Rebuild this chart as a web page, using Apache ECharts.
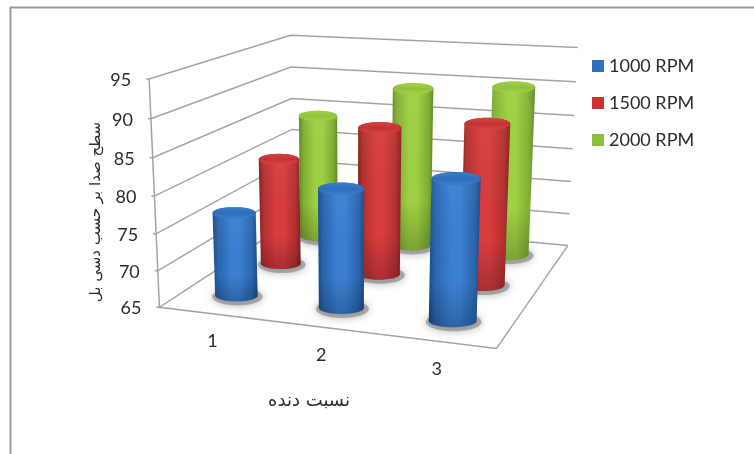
<!DOCTYPE html>
<html>
<head>
<meta charset="utf-8">
<style>html,body{margin:0;padding:0;background:#fff}#chart{width:754px;height:454px}</style>
<script src="https://cdn.jsdelivr.net/npm/echarts@6/dist/echarts.min.js"></script>
</head>
<body>
<div id="chart"></div>
<script>
// Gear ratio vs. sound level, three engine speeds
const gearRatios = ['1', '2', '3'];
const valueTicks = [65, 70, 75, 80, 85, 90, 95];
const rpm1000 = [76.5, 81, 83.5];
const rpm1500 = [80.5, 86, 87.5];
const rpm2000 = [84, 89, 90];
const seriesNames = ['1000 RPM', '1500 RPM', '2000 RPM'];
const yAxisName = 'سطح صدا بر حسب دسی بل';
const xAxisName = 'نسبت دنده';

// Box corners on screen: [u along gears, v into depth, w up the value axis] -> pixel
const frameAnchors = [
  [0, 0, 0, 160, 305], [1, 0, 0, 497, 350], [1, 1, 0, 568, 244], [0, 1, 0, 292, 222],
  [0, 0, 1, 148, 80], [1, 1, 1, 577, 48], [0, 1, 1, 292, 34]
];

// Least-squares fit of the 11-parameter perspective camera
function fitCamera(anchors) {
  const rows = [], rhs = [];
  anchors.forEach(([u, v, w, x, y]) => {
    rows.push([u, v, w, 1, 0, 0, 0, 0, -x * u, -x * v, -x * w]); rhs.push(x);
    rows.push([0, 0, 0, 0, u, v, w, 1, -y * u, -y * v, -y * w]); rhs.push(y);
  });
  const n = 11, m = [];
  for (let i = 0; i < n; i++) {
    m[i] = [];
    for (let j = 0; j < n; j++) m[i][j] = rows.reduce((s, r) => s + r[i] * r[j], 0);
    m[i][n] = rows.reduce((s, r, k) => s + r[i] * rhs[k], 0);
  }
  for (let c = 0; c < n; c++) {
    let p = c;
    for (let r = c + 1; r < n; r++) if (Math.abs(m[r][c]) > Math.abs(m[p][c])) p = r;
    [m[c], m[p]] = [m[p], m[c]];
    for (let r = 0; r < n; r++) {
      if (r === c) continue;
      const f = m[r][c] / m[c][c];
      for (let j = c; j <= n; j++) m[r][j] -= f * m[c][j];
    }
  }
  return m.map((row, i) => row[n] / row[i]);
}
const cam = fitCamera(frameAnchors);
function project(u, v, w) {
  const d = cam[8] * u + cam[9] * v + cam[10] * w + 1;
  return [(cam[0] * u + cam[1] * v + cam[2] * w + cam[3]) / d,
          (cam[4] * u + cam[5] * v + cam[6] * w + cam[7]) / d];
}

// The hidden grid's scales give u and w; each series sits on its own depth row
function toUW(api, params, cat, val) {
  const rect = params.coordSys;
  const p = api.coord([cat, val]);
  return [(p[0] - rect.x) / rect.width, (rect.y + rect.height - p[1]) / rect.height];
}

function ellipsePoints(c, rx, ry, from, to, n) {
  const pts = [];
  for (let i = 0; i <= n; i++) {
    const t = from + (to - from) * i / n;
    pts.push([c[0] + rx * Math.cos(t), c[1] + ry * Math.sin(t)]);
  }
  return pts;
}

const palette = {
  '1000 RPM': { edge: '#1c4a88', side: '#2a65ae', mid: '#3a80d2', cap: '#2c6ebb', capHi: '#3a7fca', plain: '#2f6fbe' },
  '1500 RPM': { edge: '#842020', side: '#b23030', mid: '#d83c3c', cap: '#c43232', capHi: '#d84343', plain: '#c83232' },
  '2000 RPM': { edge: '#5d8a22', side: '#7fae32', mid: '#9fd043', cap: '#8fc23a', capHi: '#a3d24a', plain: '#8dbf3a' }
};
const BAR_RADIUS_U = 0.069, ELLIPSE_RATIO = 0.27;

function renderCylinder(depthRow, name) {
  const v = (depthRow + 0.5) / 3;
  const col = palette[name];
  return function (params, api) {
    const [u, w] = toUW(api, params, api.value(0), api.value(1));
    const base = project(u, v, 0), top = project(u, v, w);
    const radiusAt = (wv) => {
      const a = project(u - BAR_RADIUS_U, v, wv), b = project(u + BAR_RADIUS_U, v, wv);
      return Math.hypot(b[0] - a[0], b[1] - a[1]) / 2;
    };
    const rb = radiusAt(0), rt = radiusAt(w);
    const ryb = rb * ELLIPSE_RATIO, ryt = rt * ELLIPSE_RATIO;
    const body = ellipsePoints(base, rb, ryb, Math.PI, 0, 32)
      .concat(ellipsePoints(top, rt, ryt, 2 * Math.PI, Math.PI, 32));
    const x0 = Math.min(base[0] - rb, top[0] - rt), x1 = Math.max(base[0] + rb, top[0] + rt);
    const grad = new echarts.graphic.LinearGradient(x0, 0, x1, 0, [
      { offset: 0, color: col.edge }, { offset: 0.12, color: col.side },
      { offset: 0.42, color: col.mid }, { offset: 0.6, color: col.mid },
      { offset: 0.88, color: col.side }, { offset: 1, color: col.edge }
    ], true);
    const shade = new echarts.graphic.LinearGradient(0, top[1], 0, base[1] + ryb, [
      { offset: 0, color: 'rgba(255,255,255,0.04)' }, { offset: 0.7, color: 'rgba(0,0,0,0)' },
      { offset: 1, color: 'rgba(0,0,20,0.22)' }
    ], true);
    const capGrad = new echarts.graphic.LinearGradient(0, top[1] - ryt, 0, top[1] + ryt, [
      { offset: 0, color: col.capHi }, { offset: 0.5, color: col.cap }, { offset: 1, color: col.capHi }
    ], true);
    return {
      type: 'group',
      children: [
        { type: 'polygon', silent: true,
          shape: { points: ellipsePoints([base[0] + 1, base[1] + 1], rb + 4, ryb + 3, 0, 2 * Math.PI, 40) },
          style: { fill: 'rgba(130,130,130,0.6)', shadowBlur: 9, shadowColor: 'rgba(120,120,120,0.9)' } },
        { type: 'polygon', shape: { points: body }, style: { fill: grad } },
        { type: 'polygon', silent: true, shape: { points: body }, style: { fill: shade } },
        { type: 'polygon', silent: true,
          shape: { points: ellipsePoints(top, rt, ryt, 0, 2 * Math.PI, 48) }, style: { fill: capGrad } }
      ]
    };
  };
}

const GRID_LINE = '#a3a3a3', TEXT = '#2b2b2b', LABEL_FONT = '18px Lato, "Open Sans", sans-serif';

// Wall gridlines and value labels
function renderLevel(params, api) {
  const val = api.value(1);
  const [, w] = toUW(api, params, 0, val);
  const a = project(0, 0, w), b = project(0, 1, w), c = project(1, 1, w);
  const children = [
    { type: 'polyline', shape: { points: [[a[0] - 3, a[1]], a, b, c] },
      style: { stroke: GRID_LINE, lineWidth: 1.5, fill: 'none' } },
    { type: 'text', style: { text: String(val), x: a[0] - 18, y: a[1] + 1, align: 'right', verticalAlign: 'middle',
        font: LABEL_FONT, fill: TEXT } }
  ];
  if (params.dataIndex === 0) {
    const fr = project(1, 0, 0), topL = project(0, 0, 1);
    children.push({ type: 'polyline', shape: { points: [topL, a, fr, c] },
      style: { stroke: GRID_LINE, lineWidth: 1.5, fill: 'none' } });
  }
  return { type: 'group', children };
}

// Gear ratio labels below the front floor edge
function renderCategory(params, api) {
  const [u] = toUW(api, params, api.value(0), valueTicks[0]);
  const p = project(u, 0, 0);
  return { type: 'text', style: { text: gearRatios[api.value(0)], x: p[0] + 1, y: p[1] + 28, align: 'center',
    verticalAlign: 'middle', font: LABEL_FONT, fill: TEXT } };
}

const makeBars = (name, values, depthRow) => ({
  name, type: 'custom', z: 10 + (2 - depthRow), animation: false, clip: false,
  coordinateSystem: 'cartesian2d', itemStyle: { color: palette[name].plain },
  encode: { x: 0, y: 1 },
  data: values.map((val, i) => [i, val]),
  renderItem: renderCylinder(depthRow, name)
});

const chart = echarts.init(document.getElementById('chart'), null, { renderer: 'canvas' });
chart.setOption({
  animation: false,
  backgroundColor: '#ffffff',
  grid: { left: 100, top: 50, width: 400, height: 300 },
  xAxis: { type: 'category', data: gearRatios, show: false },
  yAxis: { type: 'value', min: valueTicks[0], max: valueTicks[valueTicks.length - 1], interval: 5, show: false },
  legend: {
    orient: 'vertical', left: 592, top: 57, padding: 0, itemWidth: 12, itemHeight: 12, itemGap: 19,
    icon: 'rect', data: seriesNames, selectedMode: false,
    textStyle: { fontFamily: 'Lato, "Open Sans", sans-serif', fontSize: 18, color: TEXT }
  },
  series: [
    { type: 'custom', name: 'levels', z: 2, clip: false, animation: false, silent: true,
      data: valueTicks.map(t => [0, t]), encode: { x: 0, y: 1 }, renderItem: renderLevel },
    { type: 'custom', name: 'gears', z: 2, clip: false, animation: false, silent: true,
      data: gearRatios.map((_, i) => [i, valueTicks[0]]), encode: { x: 0, y: 1 }, renderItem: renderCategory },
    makeBars(seriesNames[0], rpm1000, 0),
    makeBars(seriesNames[1], rpm1500, 1),
    makeBars(seriesNames[2], rpm2000, 2)
  ],
  graphic: [
    { type: 'polyline', silent: true, shape: { points: [[10.5, 454], [10.5, 7.5], [754, 7.5]] },
      style: { stroke: '#9a9a9a', lineWidth: 2, fill: 'none' } },
    { type: 'text', silent: true, x: 96, y: 212, rotation: Math.PI / 2,
      style: { text: yAxisName, x: 0, y: 0, align: 'center', verticalAlign: 'middle',
        font: '15px "DejaVu Sans", sans-serif', fill: TEXT } },
    { type: 'text', silent: true, x: 309, y: 401,
      style: { text: xAxisName, x: 0, y: 0, align: 'center', verticalAlign: 'middle',
        font: '18px "DejaVu Sans", sans-serif', fill: TEXT } }
  ]
});
</script>
</body>
</html>
